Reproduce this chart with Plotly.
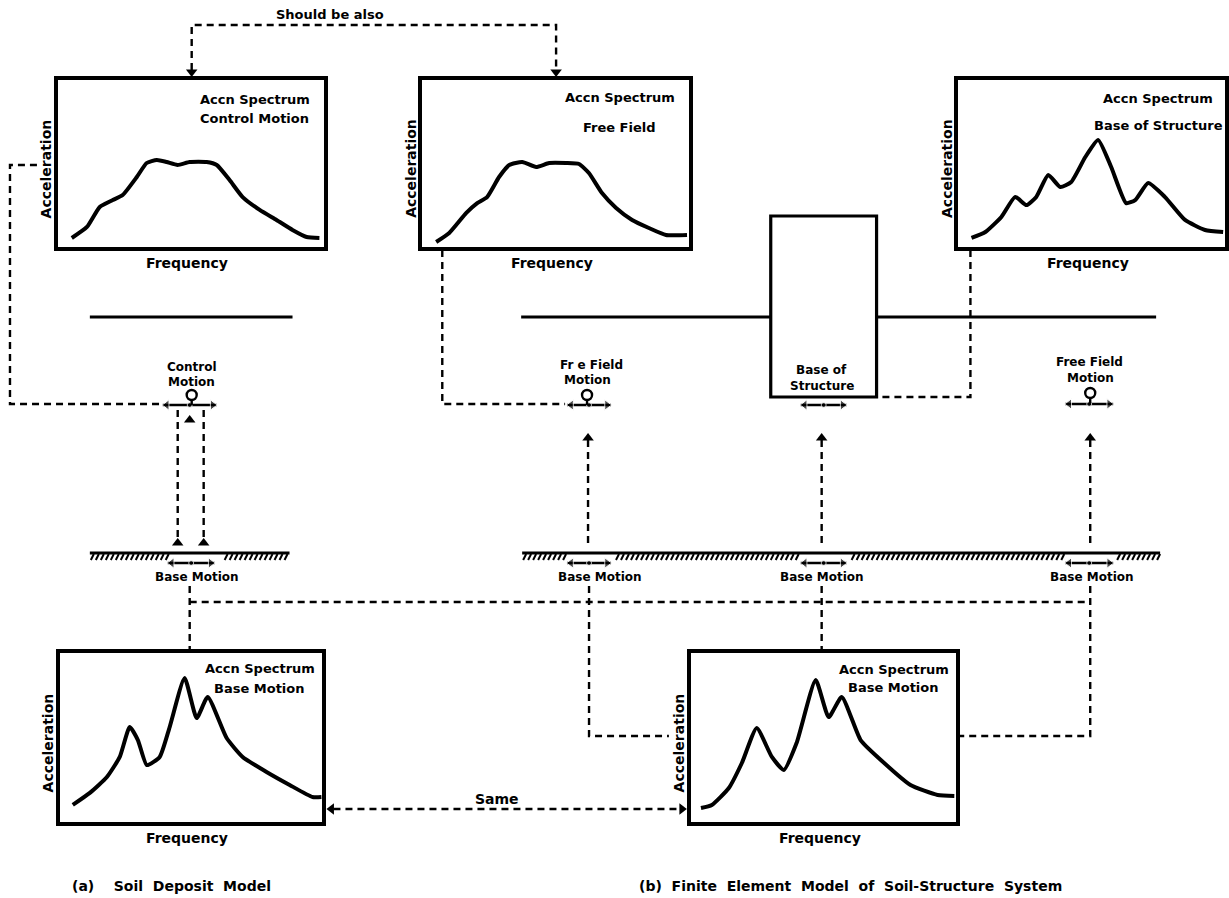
import plotly.graph_objects as go

W, H = 1229, 898

# ---------------- spectrum data (frequency 0-10, acceleration 0-10) ----------------
control_freq = [0.52, 1.09, 1.57, 2.06, 2.43, 2.96, 3.33, 3.71, 4.08, 4.49, 4.94, 5.58, 5.96, 6.44, 6.93, 7.57, 8.20, 8.80, 9.33, 9.81]
control_acc = [0.54, 1.20, 2.40, 2.81, 3.11, 4.19, 5.03, 5.21, 5.09, 4.91, 5.09, 5.09, 4.91, 4.01, 2.99, 2.22, 1.62, 1.02, 0.60, 0.54]

freefield_freq = [0.52, 1.01, 1.65, 2.06, 2.43, 2.88, 3.26, 3.75, 4.27, 4.76, 5.39, 5.88, 6.25, 6.74, 7.27, 7.87, 8.50, 9.14, 9.93]
freefield_acc = [0.30, 0.84, 2.04, 2.63, 2.99, 4.19, 4.91, 5.09, 4.79, 5.03, 5.03, 4.97, 4.43, 3.23, 2.34, 1.62, 1.14, 0.72, 0.72]

structure_freq = [0.49, 1.01, 1.61, 2.13, 2.55, 2.92, 3.37, 3.82, 4.23, 4.76, 5.24, 5.73, 6.29, 6.63, 7.12, 7.75, 8.50, 9.25, 9.93]
structure_acc = [0.54, 0.90, 1.80, 3.00, 2.51, 3.00, 4.31, 3.59, 3.89, 5.39, 6.41, 4.79, 2.63, 2.81, 3.83, 2.99, 1.62, 1.02, 0.90]

base_a_freq = [0.49, 1.14, 1.79, 2.28, 2.66, 2.97, 3.31, 3.80, 4.18, 4.75, 5.21, 5.63, 6.35, 6.96, 7.87, 8.75, 9.62, 9.96]
base_a_acc = [1.01, 1.72, 2.66, 3.85, 5.62, 4.85, 3.37, 3.85, 5.62, 8.52, 6.15, 7.40, 4.97, 3.85, 2.96, 2.19, 1.48, 1.48]

base_b_freq = [0.38, 0.79, 1.43, 1.92, 2.48, 3.05, 3.50, 3.98, 4.70, 5.19, 5.68, 6.39, 7.07, 8.27, 9.29, 9.92]
base_b_acc = [0.83, 1.01, 2.01, 3.49, 5.56, 3.85, 3.08, 4.67, 8.40, 6.21, 7.40, 4.85, 3.79, 2.19, 1.60, 1.54]

box_line1 = ["Accn Spectrum", "Accn Spectrum", "Accn Spectrum", "Accn Spectrum", "Accn Spectrum"]
box_line2 = ["Control Motion", "Free Field", "Base of Structure", "Base Motion", "Base Motion"]
x_title = "Frequency"
y_title = "Acceleration"

# ---------------- layout geometry (pixels) ----------------
boxes = [  # left, right, top, bottom
    (58, 325, 80, 247),
    (423, 690, 80, 247),
    (960, 1227, 80, 247),
    (60, 323, 653, 822),
    (692, 958, 653, 822),
]
series = [
    (control_freq, control_acc),
    (freefield_freq, freefield_acc),
    (structure_freq, structure_acc),
    (base_a_freq, base_a_acc),
    (base_b_freq, base_b_acc),
]

FONT = "DejaVu Sans"
fig = go.Figure()
annotations = []


def ann(x, y, text, size=14, xanchor="center", bold=True):
    annotations.append(dict(
        x=x, y=y, xref="x", yref="y", text=("<b>%s</b>" % text) if bold else text,
        showarrow=False, xanchor=xanchor, yanchor="middle",
        font=dict(family=FONT, size=size, color="black")))


layout_axes = {}
for i, ((l, r, t, b), (fx, ay)) in enumerate(zip(boxes, series)):
    n = i + 2
    layout_axes["xaxis%d" % n] = dict(
        domain=[l / W, r / W], range=[0, 10], anchor="y%d" % n,
        showline=True, mirror=True, linecolor="black", linewidth=3.5,
        showgrid=False, zeroline=False, showticklabels=False, ticks="", fixedrange=True)
    layout_axes["yaxis%d" % n] = dict(
        domain=[1 - b / H, 1 - t / H], range=[0, 10], anchor="x%d" % n,
        showline=True, mirror=True, linecolor="black", linewidth=3.5,
        showgrid=False, zeroline=False, showticklabels=False, ticks="", fixedrange=True)
    fig.add_trace(go.Scatter(
        x=fx, y=ay, xaxis="x%d" % n, yaxis="y%d" % n, mode="lines",
        line=dict(color="black", width=4, shape="spline", smoothing=0.5),
        hoverinfo="skip", showlegend=False))
    # axis titles
    ann((l + r) / 2 - 4, b + 16, x_title, size=14)
    annotations.append(dict(
        x=l - 12, y=(t + b) / 2 + 5, xref="x", yref="y", text="<b>%s</b>" % y_title,
        showarrow=False, textangle=-90, xanchor="center", yanchor="middle",
        font=dict(family=FONT, size=14, color="black")))

# in-box titles
box_text_pos = [(255, 99, 118), (621, 97, 127), (1160, 98, 125), (260, 668, 688), (895, 669, 687)]
for (cx, y1, y2), s1, s2 in zip(box_text_pos, box_line1, box_line2):
    ann(cx, y1, s1, size=13)
    ann(cx, y2, s2, size=13)


def path_trace(segments, width=2.4, dash="7px,5px"):
    xs, ys = [], []
    for seg in segments:
        for (x, y) in seg:
            xs.append(x)
            ys.append(y)
        xs.append(None)
        ys.append(None)
    return go.Scatter(x=xs, y=ys, mode="lines", line=dict(color="black", width=width, dash=dash),
                      hoverinfo="skip", showlegend=False, connectgaps=False)


# dashed connectors
dashed = [
    [(192, 70), (192, 25), (557, 25), (557, 70)],
    [(37, 165), (10, 165), (10, 404), (163, 404)],
    [(178, 410), (178, 538)],
    [(204, 410), (204, 538)],
    [(190, 586), (190, 653)],
    [(190, 602), (1092, 602)],
    [(443, 250), (443, 404), (566, 404)],
    [(589, 440), (589, 548)],
    [(823, 440), (823, 548)],
    [(1092, 440), (1092, 548)],
    [(972, 250), (972, 397), (880, 397)],
    [(590, 586), (590, 736), (670, 736)],
    [(823, 586), (823, 653)],
    [(1092, 586), (1092, 736), (960, 736)],
    [(334, 809), (681, 809)],
]
fig.add_trace(path_trace(dashed))

# solid lines: ground surfaces, structure
solid = [
    [(90, 317), (293, 317)],
    [(522, 317), (772, 317)],
    [(878, 317), (1158, 317)],
    [(772, 317), (772, 216), (878, 216), (878, 397), (772, 397), (772, 317)],
]
fig.add_trace(path_trace(solid, width=3.2, dash="solid"))

# base (rock) lines with hatching
base_lines = [[(90, 553), (290, 553)], [(523, 553), (1162, 553)]]
fig.add_trace(path_trace(base_lines, width=2.8, dash="solid"))
hatch_runs = [(90, 170), (224, 290), (523, 566), (616, 800), (852, 1064), (1118, 1162)]
hatch = []
for a, bnd in hatch_runs:
    x = a + 2
    while x <= bnd:
        hatch.append([(x + 2, 554), (x - 1, 560)])
        x += 5
fig.add_trace(path_trace(hatch, width=2, dash="solid"))

# double-headed motion arrows
arrow_specs = [(163, 217, 405), (568, 612, 405), (802, 848, 405), (1067, 1115, 404),
               (168, 215, 563), (568, 612, 563), (802, 848, 563), (1067, 1115, 563)]
fig.add_trace(path_trace([[(a, y), (b2, y)] for a, b2, y in arrow_specs], width=2.4, dash="solid"))
mx, my, ms = [], [], []
for a, b2, y in arrow_specs:
    mx += [a + 4, b2 - 4, (a + b2) / 2]
    my += [y, y, y]
    ms += ["triangle-left", "triangle-right", "circle"]
fig.add_trace(go.Scatter(x=mx, y=my, mode="markers", hoverinfo="skip", showlegend=False,
                         marker=dict(symbol=ms, size=[9, 9, 5] * len(arrow_specs), color="black")))

# recorder circles with stems
circ = [(192, 395), (588, 395), (1092, 393)]
fig.add_trace(path_trace([[(cx, cy + 4), (cx, cy + 10)] for cx, cy in circ], width=2.4, dash="solid"))
fig.add_trace(go.Scatter(x=[c[0] for c in circ], y=[c[1] for c in circ], mode="markers",
                         hoverinfo="skip", showlegend=False,
                         marker=dict(symbol="circle-open", size=10, color="black", line=dict(width=2.4))))

# arrowheads
heads = [
    (192, 72, "triangle-down"), (557, 72, "triangle-down"),
    (178, 543, "triangle-up"), (204, 543, "triangle-up"),
    (190, 420, "triangle-up"),
    (589, 438, "triangle-up"), (823, 438, "triangle-up"), (1092, 438, "triangle-up"),
    (332, 809, "triangle-left"), (683, 809, "triangle-right"),
]
fig.add_trace(go.Scatter(x=[h[0] for h in heads], y=[h[1] for h in heads], mode="markers",
                         hoverinfo="skip", showlegend=False,
                         marker=dict(symbol=[h[2] for h in heads], size=10, color="black")))

# labels
ann(331, 14, "Should be also", size=13)
ann(192, 367, "Control", size=12)
ann(192, 382, "Motion", size=12)
ann(592, 365, "Fr e Field", size=12)
ann(588, 380, "Motion", size=12)
ann(823, 370, "Base of", size=12)
ann(823, 386, "Structure", size=12)
ann(1091, 362, "Free Field", size=12)
ann(1092, 378, "Motion", size=12)
ann(197, 577, "Base Motion", size=12)
ann(601, 577, "Base Motion", size=12)
ann(823, 577, "Base Motion", size=12)
ann(1094, 577, "Base Motion", size=12)
ann(498, 799, "Same", size=14)
ann(70, 886, "(a)\u00a0\u00a0\u00a0\u00a0Soil\u00a0\u00a0Deposit\u00a0\u00a0Model", size=14, xanchor="left")
ann(638, 886, "(b)\u00a0\u00a0Finite\u00a0\u00a0Element\u00a0\u00a0Model\u00a0\u00a0of\u00a0\u00a0Soil-Structure\u00a0\u00a0System",
    size=14, xanchor="left")

fig.update_layout(
    width=W, height=H, margin=dict(l=0, r=0, t=0, b=0),
    paper_bgcolor="white", plot_bgcolor="rgba(0,0,0,0)",
    showlegend=False,
    xaxis=dict(domain=[0, 1], range=[0, W], visible=False, fixedrange=True),
    yaxis=dict(domain=[0, 1], range=[H, 0], visible=False, fixedrange=True),
    annotations=annotations,
    **layout_axes,
)

fig.write_html("out.html")
